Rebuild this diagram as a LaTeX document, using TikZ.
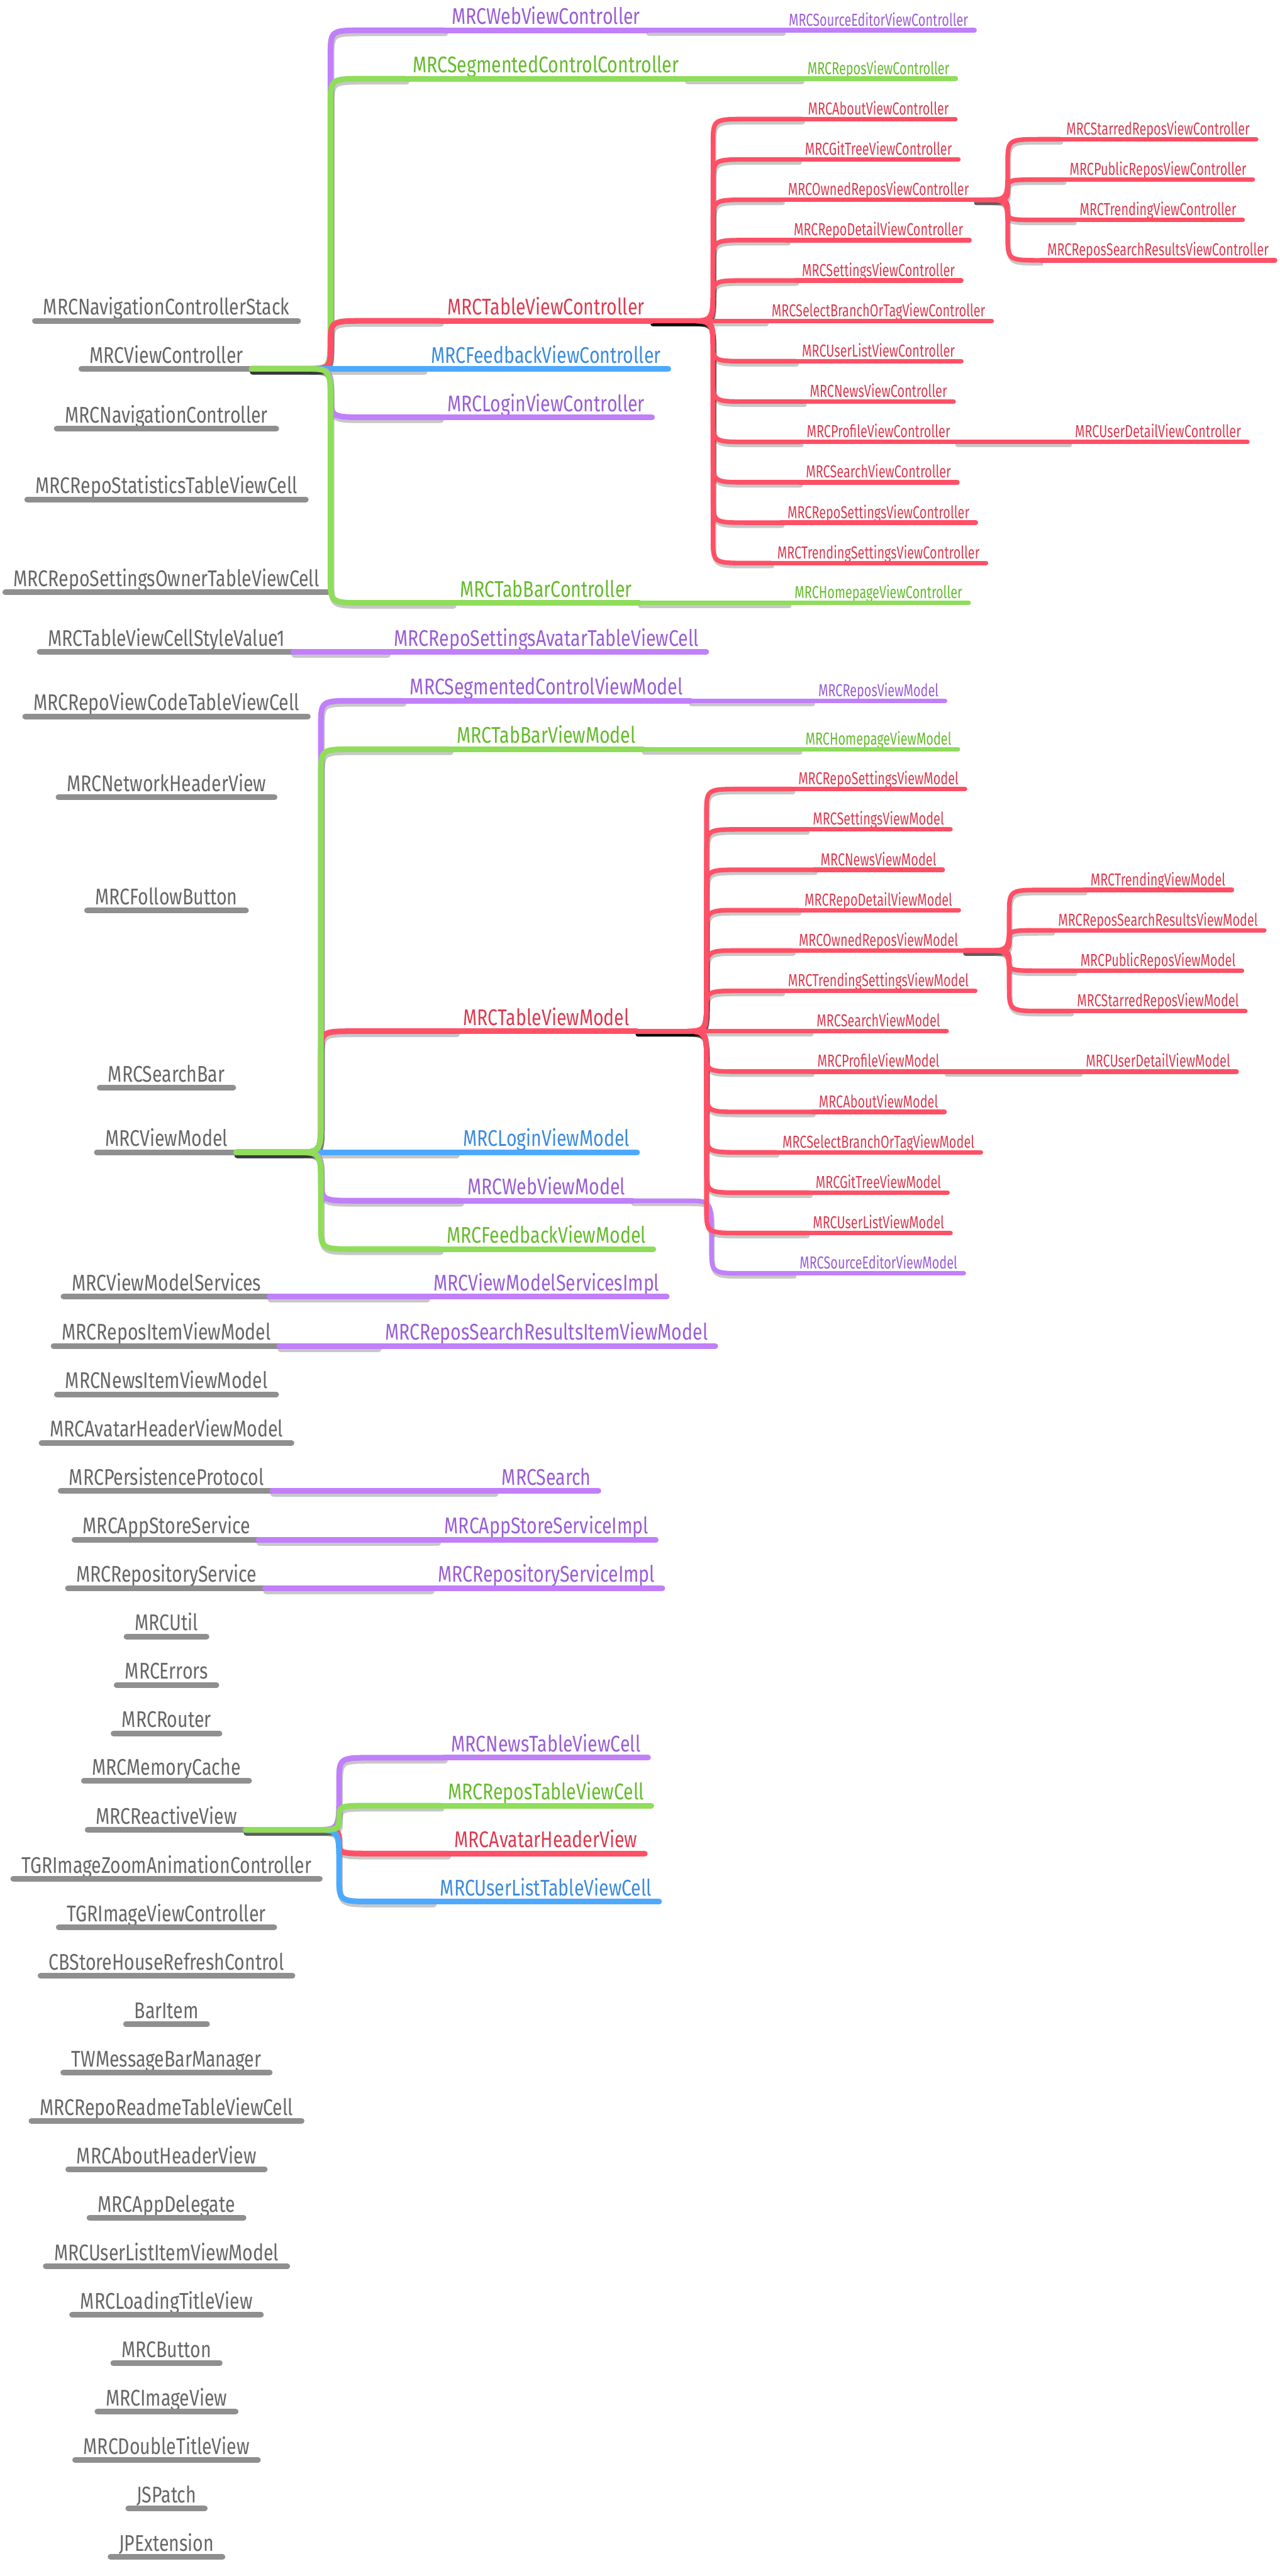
\documentclass[tikz,border=0pt]{standalone}
\usepackage{fontspec}
\newfontfamily\mindfont{Fira Sans}[FakeStretch=0.79]
\newfontfamily\leafmindfont{Fira Sans}[FakeStretch=0.72]
\usetikzlibrary{calc}
\pgfdeclarelayer{bg}
\pgfsetlayers{bg,main}

\newcommand{\topicfont}{\mindfont\fontsize{12.8}{15}\selectfont}
\newcommand{\leaffont}{\leafmindfont\fontsize{9.8}{12}\selectfont}

% curved connector: parent hub -> spine -> child line
\newcommand{\brdraw}[4]{%
  \draw[#1] let \p1=(#2), \p2=(#4), \p3=(#3),
      \n1={sign(\y2-\y1)}, \n2={min(abs(\y2-\y1)/2,19.9pt)},
      \n3={min(abs(\y2-\y1)/2,14.2pt)} in
    (\p1) -- (\x3-14.2pt,\y1)
      .. controls (\x3,\y1) .. (\x3,\y1+\n1*\n2)
      -- (\x3,\y2-\n1*\n3)
      .. controls (\x3,\y2) .. (\x3+19.3pt,\y2)
      -- (\p2);}
\newcommand{\branch}[4]{%
  \begin{pgfonlayer}{bg}\brdraw{#1,shadowline}{#2}{#3}{#4}\end{pgfonlayer}%
  \brdraw{#1}{#2}{#3}{#4}}
% straight connector
\newcommand{\link}[3]{%
  \begin{pgfonlayer}{bg}\draw[#1,shadowline] (#2) -- (#3);\end{pgfonlayer}%
  \draw[#1] (#2) -- (#3);}

\begin{document}
\begin{tikzpicture}[
  topic/.style={anchor=south, text depth=0pt, inner ysep=0.11cm, font=\topicfont},
  gtopic/.style={topic, text=txgray, inner xsep=0.16cm,
    append after command={(\tikzlastnode.south west) edge[uline=gray] (\tikzlastnode.south east)}},
  ctopic/.style={topic, text=tx#1, inner xsep=0.14cm,
    append after command={(\tikzlastnode.south west) edge[uline=#1] (\tikzlastnode.south east)}},
  ltopic/.style={topic, font=\leaffont, inner ysep=0.08cm, text=tx#1, inner xsep=0.12cm,
    append after command={(\tikzlastnode.south west) edge[sline=#1] (\tikzlastnode.south east)}},
  uline/.style={draw=ln#1, line width=3.2pt, line cap=round},
  sline/.style={draw=ln#1, line width=2.6pt, line cap=round},
  lnk/.style={draw=ln#1, line width=3.2pt, line cap=round},
  lnks/.style={draw=ln#1, line width=2.6pt, line cap=round},
  shadowline/.style={draw=black, draw opacity=0.22, transform canvas={shift={(0.02,-0.06)}}}
]
  \definecolor{lnpurple}{HTML}{C17FFA}
  \definecolor{lngreen}{HTML}{8FDD5B}
  \definecolor{lnred}{HTML}{FF5066}
  \definecolor{lnblue}{HTML}{4DA9FF}
  \definecolor{lngray}{HTML}{8F8F8F}
  \definecolor{txpurple}{HTML}{9A5CD6}
  \definecolor{txgreen}{HTML}{63BB2A}
  \definecolor{txred}{HTML}{DC3A4F}
  \definecolor{txblue}{HTML}{3A8BDD}
  \definecolor{txgray}{HTML}{666666}

  \useasboundingbox (0,0) rectangle (25.36,-51.06);

  % spines
  \coordinate (vcspine) at (6.55,0);
  \coordinate (tvcspine) at (14.13,0);
  \coordinate (ovcspine) at (19.97,0);
  \coordinate (vmspine) at (6.36,0);
  \coordinate (tvmspine) at (14.00,0);
  \coordinate (ovmspine) at (20.00,0);
  \coordinate (wvmspine) at (14.10,0);
  \coordinate (rvspine) at (6.72,0);

  % ================= LEFT COLUMN =================
  \node[gtopic] (navstack) at (3.30,-6.36) {MRCNavigationControllerStack};
  \node[gtopic] (vc) at (3.30,-7.31) {MRCViewController};
  \node[gtopic] (nav) at (3.30,-8.50) {MRCNavigationController};
  \node[gtopic] (statcell) at (3.30,-9.90) {MRCRepoStatisticsTableViewCell};
  \node[gtopic] (ownercell) at (3.30,-11.74) {MRCRepoSettingsOwnerTableViewCell};
  \node[gtopic] (value1) at (3.30,-12.92) {MRCTableViewCellStyleValue1};
  \node[gtopic] (codecell) at (3.30,-14.20) {MRCRepoViewCodeTableViewCell};
  \node[gtopic] (netheader) at (3.30,-15.80) {MRCNetworkHeaderView};
  \node[gtopic] (follow) at (3.30,-18.05) {MRCFollowButton};
  \node[gtopic] (searchbar) at (3.30,-21.56) {MRCSearchBar};
  \node[gtopic] (vm) at (3.30,-22.84) {MRCViewModel};
  \node[gtopic] (vmservices) at (3.30,-25.70) {MRCViewModelServices};
  \node[gtopic] (reposit) at (3.30,-26.68) {MRCReposItemViewModel};
  \node[gtopic] (newsit) at (3.30,-27.64) {MRCNewsItemViewModel};
  \node[gtopic] (avatarvm) at (3.30,-28.60) {MRCAvatarHeaderViewModel};
  \node[gtopic] (persist) at (3.30,-29.55) {MRCPersistenceProtocol};
  \node[gtopic] (appstore) at (3.30,-30.52) {MRCAppStoreService};
  \node[gtopic] (repository) at (3.30,-31.48) {MRCRepositoryService};
  \node[gtopic] (util) at (3.30,-32.44) {MRCUtil};
  \node[gtopic] (errors) at (3.30,-33.40) {MRCErrors};
  \node[gtopic] (router) at (3.30,-34.36) {MRCRouter};
  \node[gtopic] (cache) at (3.30,-35.30) {MRCMemoryCache};
  \node[gtopic] (reactive) at (3.30,-36.27) {MRCReactiveView};
  \node[gtopic] (zoomanim) at (3.30,-37.24) {TGRImageZoomAnimationController};
  \node[gtopic] (imagevc) at (3.30,-38.20) {TGRImageViewController};
  \node[gtopic] (refresh) at (3.30,-39.16) {CBStoreHouseRefreshControl};
  \node[gtopic] (baritem) at (3.30,-40.12) {BarItem};
  \node[gtopic] (msgbar) at (3.30,-41.08) {TWMessageBarManager};
  \node[gtopic] (readme) at (3.30,-42.04) {MRCRepoReadmeTableViewCell};
  \node[gtopic] (aboutheader) at (3.30,-43.00) {MRCAboutHeaderView};
  \node[gtopic] (appdelegate) at (3.30,-43.96) {MRCAppDelegate};
  \node[gtopic] (userlistit) at (3.30,-44.92) {MRCUserListItemViewModel};
  \node[gtopic] (loadingtitle) at (3.30,-45.88) {MRCLoadingTitleView};
  \node[gtopic] (button) at (3.30,-46.84) {MRCButton};
  \node[gtopic] (imageview) at (3.30,-47.80) {MRCImageView};
  \node[gtopic] (doubletitle) at (3.30,-48.76) {MRCDoubleTitleView};
  \node[gtopic] (jspatch) at (3.30,-49.72) {JSPatch};
  \node[gtopic] (jpext) at (3.30,-50.68) {JPExtension};

  % ================= VIEW CONTROLLERS =================
  \node[ctopic=purple] (webvc) at (10.82,-0.60) {MRCWebViewController};
  \node[ctopic=green] (segvc) at (10.82,-1.56) {MRCSegmentedControlController};
  \node[ctopic=red] (tablevc) at (10.82,-6.36) {MRCTableViewController};
  \node[ctopic=blue] (feedbackvc) at (10.82,-7.31) {MRCFeedbackViewController};
  \node[ctopic=purple] (loginvc) at (10.82,-8.27) {MRCLoginViewController};
  \node[ctopic=green] (tabbarvc) at (10.82,-11.95) {MRCTabBarController};

  \node[ltopic=purple] (srcvc) at (17.41,-0.60) {MRCSourceEditorViewController};
  \node[ltopic=green] (reposvc) at (17.41,-1.56) {MRCReposViewController};
  \node[ltopic=green] (homevc) at (17.41,-11.95) {MRCHomepageViewController};

  \node[ltopic=red] (aboutvc) at (17.41,-2.36) {MRCAboutViewController};
  \node[ltopic=red] (gitvc) at (17.41,-3.16) {MRCGitTreeViewController};
  \node[ltopic=red] (ownedvc) at (17.41,-3.96) {MRCOwnedReposViewController};
  \node[ltopic=red] (detailvc) at (17.41,-4.76) {MRCRepoDetailViewController};
  \node[ltopic=red] (settingsvc) at (17.41,-5.56) {MRCSettingsViewController};
  \node[ltopic=red] (branchvc) at (17.41,-6.36) {MRCSelectBranchOrTagViewController};
  \node[ltopic=red] (userlistvc) at (17.41,-7.16) {MRCUserListViewController};
  \node[ltopic=red] (newsvc) at (17.41,-7.96) {MRCNewsViewController};
  \node[ltopic=red] (profilevc) at (17.41,-8.76) {MRCProfileViewController};
  \node[ltopic=red] (searchvc) at (17.41,-9.56) {MRCSearchViewController};
  \node[ltopic=red] (reposetvc) at (17.41,-10.36) {MRCRepoSettingsViewController};
  \node[ltopic=red] (trendsetvc) at (17.41,-11.16) {MRCTrendingSettingsViewController};

  \node[ltopic=red] (starredvc) at (22.95,-2.76) {MRCStarredReposViewController};
  \node[ltopic=red] (publicvc) at (22.95,-3.56) {MRCPublicReposViewController};
  \node[ltopic=red] (trendvc) at (22.95,-4.36) {MRCTrendingViewController};
  \node[ltopic=red] (resultsvc) at (22.95,-5.16) {MRCReposSearchResultsViewController};
  \node[ltopic=red] (userdetailvc) at (22.95,-8.76) {MRCUserDetailViewController};

  \branch{lnk=purple}{vc.south east}{vcspine}{webvc.south west}
  \branch{lnk=green}{vc.south east}{vcspine}{segvc.south west}
  \branch{lnk=red}{vc.south east}{vcspine}{tablevc.south west}
  \branch{lnk=blue}{vc.south east}{vcspine}{feedbackvc.south west}
  \branch{lnk=purple}{vc.south east}{vcspine}{loginvc.south west}
  \branch{lnk=green}{vc.south east}{vcspine}{tabbarvc.south west}

  \link{lnks=purple}{webvc.south east}{srcvc.south west}
  \link{lnks=green}{segvc.south east}{reposvc.south west}
  \link{lnks=green}{tabbarvc.south east}{homevc.south west}

  \branch{lnks=red}{tablevc.south east}{tvcspine}{aboutvc.south west}
  \branch{lnks=red}{tablevc.south east}{tvcspine}{gitvc.south west}
  \branch{lnks=red}{tablevc.south east}{tvcspine}{ownedvc.south west}
  \branch{lnks=red}{tablevc.south east}{tvcspine}{detailvc.south west}
  \branch{lnks=red}{tablevc.south east}{tvcspine}{settingsvc.south west}
  \branch{lnks=red}{tablevc.south east}{tvcspine}{branchvc.south west}
  \branch{lnks=red}{tablevc.south east}{tvcspine}{userlistvc.south west}
  \branch{lnks=red}{tablevc.south east}{tvcspine}{newsvc.south west}
  \branch{lnks=red}{tablevc.south east}{tvcspine}{profilevc.south west}
  \branch{lnks=red}{tablevc.south east}{tvcspine}{searchvc.south west}
  \branch{lnks=red}{tablevc.south east}{tvcspine}{reposetvc.south west}
  \branch{lnks=red}{tablevc.south east}{tvcspine}{trendsetvc.south west}

  \branch{lnks=red}{ownedvc.south east}{ovcspine}{starredvc.south west}
  \branch{lnks=red}{ownedvc.south east}{ovcspine}{publicvc.south west}
  \branch{lnks=red}{ownedvc.south east}{ovcspine}{trendvc.south west}
  \branch{lnks=red}{ownedvc.south east}{ovcspine}{resultsvc.south west}
  \link{lnks=red}{profilevc.south east}{userdetailvc.south west}

  % ================= CELLS =================
  \node[ctopic=purple] (avatarcell) at (10.83,-12.92) {MRCRepoSettingsAvatarTableViewCell};
  \link{lnk=purple}{value1.south east}{avatarcell.south west}

  % ================= VIEW MODELS =================
  \node[ctopic=purple] (segvm) at (10.83,-13.89) {MRCSegmentedControlViewModel};
  \node[ctopic=green] (tabbarvm) at (10.83,-14.85) {MRCTabBarViewModel};
  \node[ctopic=red] (tablevm) at (10.83,-20.44) {MRCTableViewModel};
  \node[ctopic=blue] (loginvm) at (10.83,-22.84) {MRCLoginViewModel};
  \node[ctopic=purple] (webvm) at (10.83,-23.80) {MRCWebViewModel};
  \node[ctopic=green] (feedbackvm) at (10.83,-24.76) {MRCFeedbackViewModel};

  \node[ltopic=purple] (reposvm) at (17.41,-13.89) {MRCReposViewModel};
  \node[ltopic=green] (homevm) at (17.41,-14.85) {MRCHomepageViewModel};
  \node[ltopic=purple] (srcvm) at (17.41,-25.24) {MRCSourceEditorViewModel};

  \node[ltopic=red] (reposetvm) at (17.41,-15.64) {MRCRepoSettingsViewModel};
  \node[ltopic=red] (settingsvm) at (17.41,-16.44) {MRCSettingsViewModel};
  \node[ltopic=red] (newsvm) at (17.41,-17.24) {MRCNewsViewModel};
  \node[ltopic=red] (detailvm) at (17.41,-18.04) {MRCRepoDetailViewModel};
  \node[ltopic=red] (ownedvm) at (17.41,-18.84) {MRCOwnedReposViewModel};
  \node[ltopic=red] (trendsetvm) at (17.41,-19.64) {MRCTrendingSettingsViewModel};
  \node[ltopic=red] (searchvm) at (17.41,-20.44) {MRCSearchViewModel};
  \node[ltopic=red] (profilevm) at (17.41,-21.24) {MRCProfileViewModel};
  \node[ltopic=red] (aboutvm) at (17.41,-22.04) {MRCAboutViewModel};
  \node[ltopic=red] (branchvm) at (17.41,-22.84) {MRCSelectBranchOrTagViewModel};
  \node[ltopic=red] (gitvm) at (17.41,-23.64) {MRCGitTreeViewModel};
  \node[ltopic=red] (userlistvm) at (17.41,-24.44) {MRCUserListViewModel};

  \node[ltopic=red] (trendvm) at (22.95,-17.64) {MRCTrendingViewModel};
  \node[ltopic=red] (resultsvm) at (22.95,-18.44) {MRCReposSearchResultsViewModel};
  \node[ltopic=red] (publicvm) at (22.95,-19.24) {MRCPublicReposViewModel};
  \node[ltopic=red] (starredvm) at (22.95,-20.04) {MRCStarredReposViewModel};
  \node[ltopic=red] (userdetailvm) at (22.95,-21.24) {MRCUserDetailViewModel};

  \branch{lnk=purple}{vm.south east}{vmspine}{segvm.south west}
  \branch{lnk=red}{vm.south east}{vmspine}{tablevm.south west}
  \branch{lnk=blue}{vm.south east}{vmspine}{loginvm.south west}
  \branch{lnk=purple}{vm.south east}{vmspine}{webvm.south west}
  \branch{lnk=green}{vm.south east}{vmspine}{feedbackvm.south west}
  \branch{lnk=green}{vm.south east}{vmspine}{tabbarvm.south west}

  \link{lnks=purple}{segvm.south east}{reposvm.south west}
  \link{lnks=green}{tabbarvm.south east}{homevm.south west}
  \branch{lnks=purple}{webvm.south east}{wvmspine}{srcvm.south west}

  \branch{lnks=red}{tablevm.south east}{tvmspine}{reposetvm.south west}
  \branch{lnks=red}{tablevm.south east}{tvmspine}{settingsvm.south west}
  \branch{lnks=red}{tablevm.south east}{tvmspine}{newsvm.south west}
  \branch{lnks=red}{tablevm.south east}{tvmspine}{detailvm.south west}
  \branch{lnks=red}{tablevm.south east}{tvmspine}{ownedvm.south west}
  \branch{lnks=red}{tablevm.south east}{tvmspine}{trendsetvm.south west}
  \branch{lnks=red}{tablevm.south east}{tvmspine}{searchvm.south west}
  \branch{lnks=red}{tablevm.south east}{tvmspine}{profilevm.south west}
  \branch{lnks=red}{tablevm.south east}{tvmspine}{aboutvm.south west}
  \branch{lnks=red}{tablevm.south east}{tvmspine}{branchvm.south west}
  \branch{lnks=red}{tablevm.south east}{tvmspine}{gitvm.south west}
  \branch{lnks=red}{tablevm.south east}{tvmspine}{userlistvm.south west}

  \branch{lnks=red}{ownedvm.south east}{ovmspine}{trendvm.south west}
  \branch{lnks=red}{ownedvm.south east}{ovmspine}{resultsvm.south west}
  \branch{lnks=red}{ownedvm.south east}{ovmspine}{publicvm.south west}
  \branch{lnks=red}{ownedvm.south east}{ovmspine}{starredvm.south west}
  \link{lnks=red}{profilevm.south east}{userdetailvm.south west}

  % ================= SERVICES =================
  \node[ctopic=purple] (servicesimpl) at (10.83,-25.70) {MRCViewModelServicesImpl};
  \node[ctopic=purple] (resultsit) at (10.83,-26.68) {MRCReposSearchResultsItemViewModel};
  \node[ctopic=purple] (search) at (10.83,-29.55) {MRCSearch};
  \node[ctopic=purple] (appstoreimpl) at (10.83,-30.52) {MRCAppStoreServiceImpl};
  \node[ctopic=purple] (repositoryimpl) at (10.83,-31.48) {MRCRepositoryServiceImpl};

  \link{lnk=purple}{vmservices.south east}{servicesimpl.south west}
  \link{lnk=purple}{reposit.south east}{resultsit.south west}
  \link{lnk=purple}{persist.south east}{search.south west}
  \link{lnk=purple}{appstore.south east}{appstoreimpl.south west}
  \link{lnk=purple}{repository.south east}{repositoryimpl.south west}

  % ================= REACTIVE VIEWS =================
  \node[ctopic=purple] (newscell) at (10.82,-34.84) {MRCNewsTableViewCell};
  \node[ctopic=green] (reposcell) at (10.82,-35.79) {MRCReposTableViewCell};
  \node[ctopic=red] (avatarview) at (10.82,-36.74) {MRCAvatarHeaderView};
  \node[ctopic=blue] (userlistcell) at (10.82,-37.69) {MRCUserListTableViewCell};

  \branch{lnk=purple}{reactive.south east}{rvspine}{newscell.south west}
  \branch{lnk=red}{reactive.south east}{rvspine}{avatarview.south west}
  \branch{lnk=blue}{reactive.south east}{rvspine}{userlistcell.south west}
  \branch{lnk=green}{reactive.south east}{rvspine}{reposcell.south west}
\end{tikzpicture}
\end{document}
